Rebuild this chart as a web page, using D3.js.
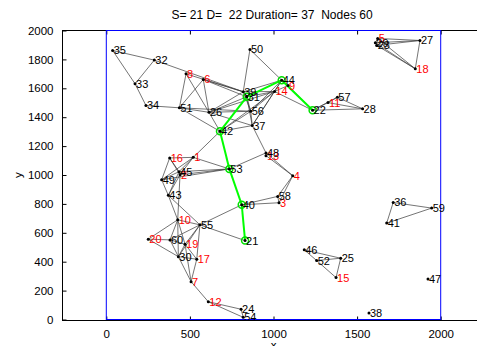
<!DOCTYPE html>
<html>
<head>
<meta charset="utf-8">
<script src="https://cdn.jsdelivr.net/npm/d3@7/dist/d3.min.js"></script>
<style>
  body { margin: 0; background: #fff; }
  svg { display: block; font-family: "Liberation Sans", Arial, sans-serif; }
</style>
</head>
<body>
<div id="chart"></div>
<script>
// node ids and positions
const nodeIds = [1, 2, 3, 4, 5, 6, 7, 8, 9, 10, 11, 12, 13, 14, 15, 16, 17, 18, 19, 20,
  21, 22, 23, 24, 25, 26, 27, 28, 29, 30, 31, 32, 33, 34, 35, 36, 37, 38, 39, 40,
  41, 42, 43, 44, 45, 46, 47, 48, 49, 50, 51, 52, 53, 54, 55, 56, 57, 58, 59, 60];
const nodeX = [520, 441, 1033, 1115, 1623, 580, 507, 477, 1087, 427, 1326, 610, 955, 1006, 1374, 379, 541, 1848, 471, 251,
  830, 1234, 1617, 806, 1402, 614, 1876, 1533, 1609, 431, 840, 287, 172, 237, 38, 1716, 873, 1571, 819, 810,
  1677, 680, 371, 1049, 435, 1184, 1924, 955, 331, 859, 437, 1258, 736, 819, 560, 864, 1382, 1025, 1946, 381];
const nodeY = [1122, 1002, 808, 995, 1945, 1661, 262, 1700, 1619, 690, 1501, 123, 1134, 1578, 290, 1118, 417, 1735, 521, 556,
  546, 1448, 1897, 71, 424, 1434, 1931, 1458, 1915, 435, 1541, 1795, 1631, 1481, 1862, 810, 1342, 45, 1576, 794,
  667, 1302, 859, 1656, 1023, 482, 281, 1153, 967, 1869, 1465, 408, 1042, 15, 655, 1441, 1538, 852, 771, 551];
const redNodes = [1, 2, 3, 4, 5, 6, 7, 8, 9, 10, 11, 12, 13, 14, 15, 16, 17, 18, 19, 20];

// links
const edges = [
  [35, 32], [35, 33], [32, 33], [33, 34], [34, 51], [32, 39], [8, 39], [6, 39], [6, 31],
  [8, 51], [8, 26], [6, 51], [6, 26], [51, 26], [51, 42], [51, 56],
  [26, 42], [26, 31], [26, 39], [26, 14], [26, 56], [26, 37],
  [42, 37], [42, 56], [42, 1], [42, 14],
  [50, 39], [50, 44], [44, 14], [44, 56], [44, 37], [44, 39],
  [14, 22], [9, 22], [9, 44], [9, 14], [31, 14], [39, 14], [56, 14], [37, 14],
  [31, 39], [31, 56], [31, 37], [56, 37], [39, 56], [37, 48],
  [22, 11], [22, 57], [22, 28], [11, 57], [11, 28], [57, 28],
  [48, 13], [48, 53], [13, 4], [48, 4], [4, 58], [4, 3], [58, 40], [3, 40], [58, 3],
  [40, 55], [55, 21], [53, 1], [53, 45], [53, 2], [53, 49],
  [16, 1], [16, 45], [16, 49], [16, 2], [1, 45], [1, 2], [1, 49], [45, 2], [45, 49],
  [49, 43], [45, 43], [2, 43], [2, 10], [43, 10], [43, 55], [10, 55],
  [10, 20], [10, 60], [10, 30], [10, 19], [55, 19], [55, 17], [55, 60], [55, 30],
  [20, 60], [20, 30], [60, 19], [60, 30], [19, 17], [30, 17], [19, 30], [30, 7], [17, 7], [19, 7],
  [7, 12], [12, 24], [12, 54], [24, 54],
  [46, 52], [46, 25], [52, 25], [52, 15], [25, 15],
  [36, 41], [36, 59], [41, 59],
  [5, 27], [23, 27], [29, 27], [5, 18], [23, 18], [29, 18], [27, 18], [5, 23], [5, 29], [23, 29]
];

// route from source to destination
const route = [21, 40, 53, 42, 31, 44, 22];

const xTicks = [0, 500, 1000, 1500, 2000];
const yTicks = [0, 200, 400, 600, 800, 1000, 1200, 1400, 1600, 1800, 2000];
const titleText = 'S= 21 D=  22 Duration= 37  Nodes 60';

const width = 477, height = 346;
const axLeft = 62, axRight = 477, axTop = 30, axBottom = 320;

const svg = d3.select('#chart').append('svg')
  .attr('width', width)
  .attr('height', height);

// scales
const xScale = d3.scaleLinear().domain([0, 2000]).range([106.3, 440.7]);
const yScale = d3.scaleLinear().domain([0, 2000]).range([319.5, 30.5]);

const pos = {};
nodeIds.forEach((id, i) => { pos[id] = [xScale(nodeX[i]), yScale(nodeY[i])]; });

// axes box (left, top, bottom)
svg.append('line').attr('x1', axLeft + 0.5).attr('x2', axLeft + 0.5).attr('y1', axTop).attr('y2', axBottom + 1)
  .attr('stroke', '#000').attr('stroke-width', 1);
svg.append('line').attr('x1', axLeft).attr('x2', axRight).attr('y1', axTop + 0.5).attr('y2', axTop + 0.5)
  .attr('stroke', '#000').attr('stroke-width', 1);
svg.append('line').attr('x1', axLeft).attr('x2', axRight).attr('y1', axBottom + 0.5).attr('y2', axBottom + 0.5)
  .attr('stroke', '#000').attr('stroke-width', 1);

// y axis: inward ticks
svg.append('g')
  .attr('transform', `translate(${axLeft + 0.5},0)`)
  .call(d3.axisLeft(yScale).tickValues(yTicks).tickSize(-4).tickPadding(9).tickFormat(d3.format('d')))
  .call(g => g.select('.domain').remove())
  .call(g => g.selectAll('text').attr('font-size', 11.5).attr('fill', '#000')
    .attr('font-family', '"Liberation Sans", Arial, sans-serif'));

// x axis bottom: inward ticks
svg.append('g')
  .attr('transform', `translate(0,${axBottom + 0.5})`)
  .call(d3.axisBottom(xScale).tickValues(xTicks).tickSize(-4).tickPadding(9).tickFormat(d3.format('d')))
  .call(g => g.select('.domain').remove())
  .call(g => g.selectAll('text').attr('font-size', 11.5).attr('fill', '#000')
    .attr('font-family', '"Liberation Sans", Arial, sans-serif'));

// x axis top ticks
svg.append('g')
  .attr('transform', `translate(0,${axTop + 0.5})`)
  .call(d3.axisTop(xScale).tickValues(xTicks).tickSize(-4).tickFormat(''))
  .call(g => g.select('.domain').remove());

// blue field boundary
svg.append('rect')
  .attr('x', xScale(0)).attr('y', yScale(2000))
  .attr('width', xScale(2000) - xScale(0))
  .attr('height', yScale(0) - yScale(2000))
  .attr('fill', 'none').attr('stroke', '#0000ff').attr('stroke-width', 1);

// links
svg.append('g').selectAll('line')
  .data(edges)
  .enter()
  .append('line')
  .attr('x1', d => pos[d[0]][0]).attr('y1', d => pos[d[0]][1])
  .attr('x2', d => pos[d[1]][0]).attr('y2', d => pos[d[1]][1])
  .attr('stroke', '#3a3a3a')
  .attr('stroke-width', 0.7);

// route
const routePairs = d3.pairs(route);
svg.append('g').selectAll('line')
  .data(routePairs)
  .enter()
  .append('line')
  .attr('x1', d => pos[d[0]][0]).attr('y1', d => pos[d[0]][1])
  .attr('x2', d => pos[d[1]][0]).attr('y2', d => pos[d[1]][1])
  .attr('stroke', '#00ff00')
  .attr('stroke-width', 2);

svg.append('g').selectAll('circle')
  .data(route)
  .enter()
  .append('circle')
  .attr('cx', d => pos[d][0]).attr('cy', d => pos[d][1])
  .attr('r', 3.5)
  .attr('fill', 'none')
  .attr('stroke', '#00e000')
  .attr('stroke-width', 1.5);

// nodes
svg.append('g').selectAll('circle')
  .data(nodeIds)
  .enter()
  .append('circle')
  .attr('cx', d => pos[d][0]).attr('cy', d => pos[d][1])
  .attr('r', 1.5)
  .attr('fill', '#000');

// node labels
svg.append('g').selectAll('text')
  .data(nodeIds)
  .enter()
  .append('text')
  .attr('x', d => pos[d][0] + 1)
  .attr('y', d => pos[d][1])
  .attr('dy', '0.36em')
  .attr('font-size', 11)
  .attr('fill', d => redNodes.includes(d) ? '#ff0000' : '#000')
  .text(d => d);

// title and axis labels
svg.append('text')
  .attr('x', 272).attr('y', 19)
  .attr('text-anchor', 'middle')
  .attr('font-size', 12)
  .style('white-space', 'pre')
  .text(titleText);

svg.append('text')
  .attr('x', xScale(1000)).attr('y', 349)
  .attr('text-anchor', 'middle')
  .attr('font-size', 11.5)
  .text('x');

svg.append('text')
  .attr('transform', `translate(22,${yScale(1000)}) rotate(-90)`)
  .attr('text-anchor', 'middle')
  .attr('font-size', 11.5)
  .text('y');
</script>
</body>
</html>
